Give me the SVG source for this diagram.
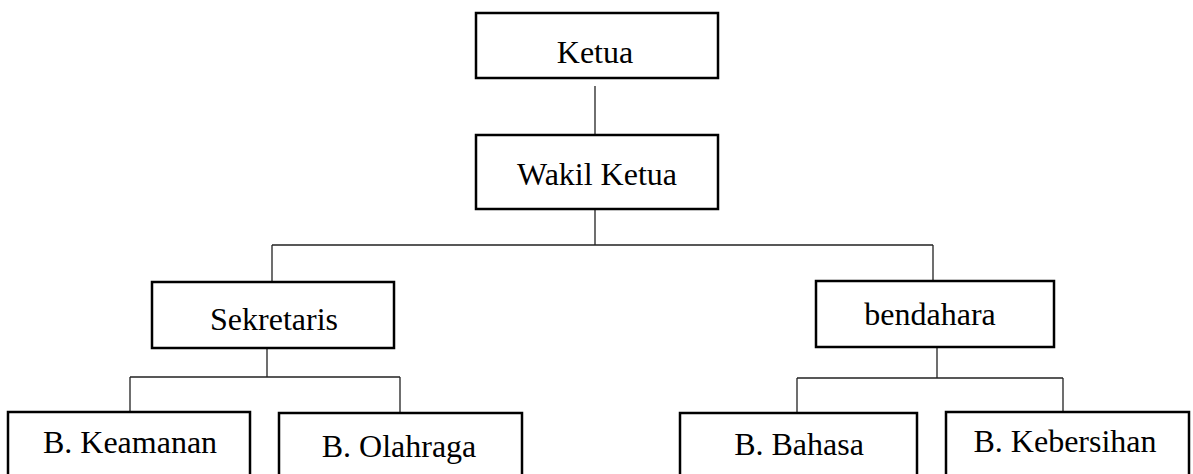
<svg xmlns="http://www.w3.org/2000/svg" width="1193" height="474" viewBox="0 0 1193 474">
<style>
.box{fill:#fff;stroke:#000;stroke-width:2.5}
.lbl{font-family:"Liberation Serif","Times New Roman",serif;font-size:32px;fill:#000;text-anchor:middle}
.con{fill:none;stroke:#222;stroke-width:1.3}
</style>
<rect width="1193" height="474" fill="#fff"/>
<g id="connectors">
<path class="con" d="M595 86V135"/>
<path class="con" d="M595 209V245M272 245H933M272 245V282M933 245V281"/>
<path class="con" d="M267 348V377M130 377H400M130 377V412M400 377V413"/>
<path class="con" d="M937 347V378M797 378H1063M797 378V413M1063 378V412"/>
</g>
<g id="ketua"><rect class="box" x="476" y="13" width="242" height="65"/><text class="lbl" x="595" y="63">Ketua</text></g>
<g id="wakil-ketua"><rect class="box" x="476" y="135" width="242" height="74"/><text class="lbl" x="597" y="185">Wakil Ketua</text></g>
<g id="sekretaris"><rect class="box" x="152" y="282" width="242" height="66"/><text class="lbl" x="274" y="330">Sekretaris</text></g>
<g id="bendahara"><rect class="box" x="816" y="281" width="238" height="66"/><text class="lbl" x="930" y="325">bendahara</text></g>
<g id="b-keamanan"><rect class="box" x="8" y="412" width="242" height="90"/><text class="lbl" x="130" y="453">B. Keamanan</text></g>
<g id="b-olahraga"><rect class="box" x="279" y="413" width="243" height="90"/><text class="lbl" x="399" y="457">B. Olahraga</text></g>
<g id="b-bahasa"><rect class="box" x="680" y="413" width="237" height="90"/><text class="lbl" x="799" y="455">B. Bahasa</text></g>
<g id="b-kebersihan"><rect class="box" x="946" y="412" width="243" height="90"/><text class="lbl" x="1065" y="452">B. Kebersihan</text></g>
</svg>
